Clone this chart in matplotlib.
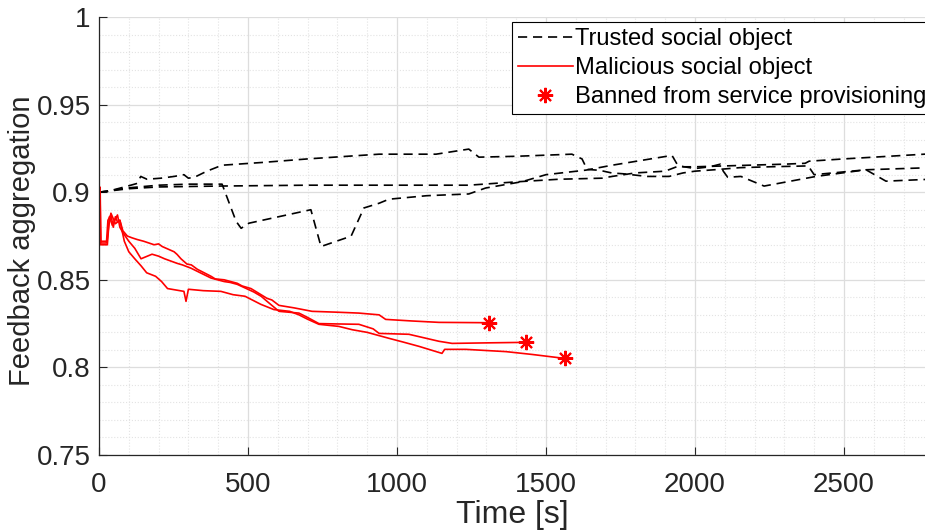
import numpy as np
import matplotlib
matplotlib.use('Agg')
import matplotlib.pyplot as plt
from matplotlib.lines import Line2D
from matplotlib.ticker import MultipleLocator

plt.rcParams['font.family'] = ['Liberation Sans', 'DejaVu Sans']

# trusted social objects (black dashed)
trusted_t1 = [0, 30, 94, 128, 140, 161, 208, 252, 285, 300, 320, 362, 413, 550, 700, 940, 1131, 1241, 1275, 1400,
              1587, 1621, 1638, 1680, 1720, 1760, 1840, 1913, 1960, 2000, 2080, 2150, 2250, 2380, 2400, 2574, 2641, 2790]
trusted_f1 = [0.900, 0.9005, 0.9034, 0.905, 0.909, 0.9074, 0.908, 0.909, 0.910, 0.908, 0.9085, 0.912, 0.9154, 0.917,
              0.919, 0.9217, 0.9217, 0.9246, 0.920, 0.9205, 0.9217, 0.919, 0.913, 0.9125, 0.911, 0.9105, 0.909, 0.909,
              0.911, 0.912, 0.913, 0.914, 0.9145, 0.915, 0.910, 0.9128, 0.9063, 0.9074]

trusted_t2 = [0, 100, 200, 400, 700, 1000, 1241, 1409, 1544, 1688, 1722, 1800, 1900, 1946, 2000, 2050, 2085, 2095,
              2110, 2154, 2232, 2406, 2574, 2790]
trusted_f2 = [0.900, 0.902, 0.903, 0.9035, 0.904, 0.904, 0.904, 0.906, 0.9074, 0.908, 0.909, 0.911, 0.912, 0.915,
              0.9135, 0.9145, 0.916, 0.912, 0.9085, 0.909, 0.9035, 0.909, 0.9128, 0.914]

trusted_t3 = [0, 100, 200, 300, 413, 460, 477, 503, 711, 745, 846, 889, 940, 973, 1100, 1241, 1298, 1420, 1500, 1634,
              1722, 1923, 1940, 1960, 2000, 2100, 2200, 2300, 2370, 2383, 2500, 2650, 2790]
trusted_f3 = [0.900, 0.9025, 0.904, 0.9046, 0.9046, 0.8834, 0.8794, 0.8823, 0.890, 0.869, 0.8749, 0.891, 0.8937,
              0.896, 0.898, 0.899, 0.9024, 0.906, 0.910, 0.9126, 0.9154, 0.921, 0.916, 0.9145, 0.9145, 0.915, 0.9155,
              0.916, 0.9165, 0.9177, 0.919, 0.9205, 0.9219]

# malicious social objects (red solid), last point = banned
mal_t1 = [0, 3, 6, 25, 30, 40, 48, 55, 62, 70, 80, 95, 110, 128, 150, 185, 200, 212, 252, 262, 275, 295, 310, 330,
          376, 390, 420, 464, 480, 510, 564, 580, 604, 654, 715, 800, 872, 940, 962, 1050, 1141, 1309]
mal_f1 = [0.900, 0.903, 0.871, 0.871, 0.884, 0.887, 0.880, 0.886, 0.883, 0.884, 0.878, 0.875, 0.874, 0.873, 0.872,
          0.870, 0.8705, 0.869, 0.866, 0.8645, 0.862, 0.859, 0.8585, 0.856, 0.852, 0.8505, 0.850, 0.848, 0.8465,
          0.845, 0.8394, 0.8385, 0.8354, 0.834, 0.832, 0.8315, 0.831, 0.830, 0.8274, 0.8265, 0.8257, 0.8255]

mal_t2 = [0, 2, 5, 28, 35, 45, 50, 62, 70, 80, 100, 120, 141, 178, 200, 220, 262, 280, 309, 340, 376, 420, 440, 464,
          520, 545, 564, 604, 671, 700, 738, 800, 872, 920, 940, 1040, 1141, 1185, 1300, 1432]
mal_f2 = [0.900, 0.902, 0.870, 0.870, 0.886, 0.881, 0.883, 0.887, 0.880, 0.877, 0.872, 0.868, 0.862, 0.8646, 0.8635,
          0.862, 0.8594, 0.8585, 0.8566, 0.854, 0.851, 0.849, 0.8485, 0.8474, 0.843, 0.8405, 0.8377, 0.832, 0.831,
          0.8285, 0.825, 0.8248, 0.8246, 0.822, 0.8194, 0.8189, 0.8149, 0.8137, 0.8140, 0.8143]

mal_t3 = [0, 4, 6, 27, 32, 40, 55, 70, 85, 100, 120, 141, 160, 190, 210, 230, 285, 292, 300, 350, 409, 450, 490, 543,
          587, 640, 671, 700, 738, 805, 850, 900, 973, 1020, 1074, 1151, 1160, 1231, 1366, 1453, 1564]
mal_f3 = [0.900, 0.900, 0.872, 0.872, 0.880, 0.888, 0.882, 0.884, 0.872, 0.866, 0.862, 0.858, 0.854, 0.852, 0.849,
          0.845, 0.8434, 0.8377, 0.8446, 0.8438, 0.8434, 0.8415, 0.8406, 0.836, 0.833, 0.832, 0.830, 0.8275, 0.8246,
          0.8234, 0.8215, 0.820, 0.8166, 0.8145, 0.812, 0.808, 0.8103, 0.8103, 0.809, 0.8074, 0.8051]

xticks = [0, 500, 1000, 1500, 2000, 2500]
yticks = [0.75, 0.8, 0.85, 0.9, 0.95, 1]
ytick_labels = ['0.75', '0.8', '0.85', '0.9', '0.95', '1']

fig = plt.figure(figsize=(9.25, 5.31), dpi=100)
ax = fig.add_axes([99 / 925, 76 / 531, 826 / 925, 438 / 531])

dash = (0, (5.5, 3.5))
for t, f in [(trusted_t1, trusted_f1), (trusted_t2, trusted_f2), (trusted_t3, trusted_f3)]:
    ax.plot(t, f, color='black', lw=1.2, ls=dash)

for t, f in [(mal_t1, mal_f1), (mal_t2, mal_f2), (mal_t3, mal_f3)]:
    ax.plot(t, f, color='red', lw=1.2)
    ax.plot(t[-1], f[-1], ls='none', marker=(8, 2, 0), ms=11, mew=1.5, color='red')

ax.set_xlim(0, 2772)
ax.set_ylim(0.75, 1)
ax.set_xticks(xticks)
ax.set_yticks(yticks)
ax.set_yticklabels(ytick_labels)
ax.xaxis.set_minor_locator(MultipleLocator(100))
ax.yaxis.set_minor_locator(MultipleLocator(0.01))

ax.grid(which='major', color='#dddddd', lw=0.9, ls='-')
ax.grid(which='minor', color='#e3e3e3', lw=0.8, ls=':')
ax.set_axisbelow(True)

ax.tick_params(which='major', direction='in', length=6, width=0.8, colors='#262626', labelsize=20)
ax.tick_params(axis='x', which='major', pad=12)
ax.tick_params(axis='y', which='major', pad=6)
ax.tick_params(which='minor', length=0)
for s in ['top', 'right']:
    ax.spines[s].set_visible(False)
for s in ['left', 'bottom']:
    ax.spines[s].set_color('#262626')
    ax.spines[s].set_linewidth(0.9)

ax.set_xlabel('Time [s]', fontsize=23, color='#262626', labelpad=2)
ax.set_ylabel('Feedback aggregation', fontsize=21, color='#262626')
ax.yaxis.set_label_coords(-0.076, 0.49)

handles = [Line2D([], [], color='black', lw=1.2, ls=dash),
           Line2D([], [], color='red', lw=1.2),
           Line2D([], [], ls='none', marker=(8, 2, 0), ms=11, mew=1.5, color='red')]
labels = ['Trusted social object', 'Malicious social object', 'Banned from service provisioning']
leg = fig.legend(handles, labels, loc='upper left', bbox_to_anchor=(512 / 925, 1 - 22 / 531),
                 bbox_transform=fig.transFigure, fontsize=17.1, frameon=True, fancybox=False, framealpha=1,
                 edgecolor='black', borderpad=0.25, labelspacing=0.3, handlelength=2.3, handletextpad=0.1,
                 borderaxespad=0)
leg.get_frame().set_linewidth(0.8)

fig.savefig('out.png', dpi=100)
